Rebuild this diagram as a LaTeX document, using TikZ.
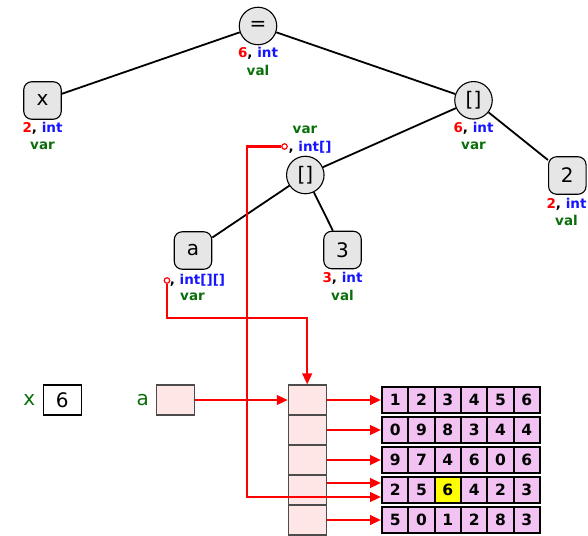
\documentclass[tikz,border=0pt]{standalone}
\usepackage{fontspec}
\setmainfont{DejaVu Sans}
\usetikzlibrary{arrows.meta,calc}
\definecolor{lblred}{RGB}{255,0,0}
\definecolor{lblblue}{RGB}{20,20,255}
\definecolor{lblgreen}{RGB}{10,110,10}
\definecolor{nodegray}{RGB}{230,230,230}
\definecolor{cellpink}{RGB}{255,230,230}
\definecolor{arrviolet}{RGB}{242,194,242}
\definecolor{hlyellow}{RGB}{255,255,0}
\tikzset{
  circ/.style={circle, draw, fill=nodegray, line width=1.1pt, minimum size=37.5pt, inner sep=0pt, font=\fontsize{20}{20}\selectfont},
  rbox/.style={rectangle, rounded corners=8pt, draw, fill=nodegray, line width=1.1pt, minimum size=37.5pt, inner sep=0pt, font=\fontsize{20}{20}\selectfont},
  edge/.style={line width=1.8pt},
  lab/.style={inner sep=0pt, font=\fontsize{13.5}{13.5}\bfseries\selectfont},
  glab/.style={lab, text=lblgreen},
  pin/.style={circle, draw=red, fill=white, line width=1.2pt, minimum size=5.5pt, inner sep=0pt},
  redline/.style={red, line width=2.4pt},
  redarrow/.style={redline, -{Triangle[length=11pt,width=9.5pt]}},
  big/.style={font=\fontsize{20}{20}\selectfont},
  colcell/.style={draw=black!70, fill=cellpink, line width=1.1pt, minimum width=37.7pt, minimum height=30pt, inner sep=0pt},
  arrcell/.style={draw, fill=arrviolet, line width=2pt, minimum width=26.3pt, minimum height=26.6pt, inner sep=0pt, font=\fontsize{15.5}{15.5}\bfseries\selectfont},
}
\newcommand{\tyl}[2]{\textcolor{lblred}{#1}, \textcolor{lblblue}{#2}}
\begin{document}
\begin{tikzpicture}[x=1pt,y=-1pt]
\useasboundingbox (0,0) rectangle (588,535);
% tree nodes
\node[circ] (eq) at (258,26) {=};
\node[rbox] (x) at (42.5,100.5) {x};
\node[circ] (ar1) at (473.5,100.3) {{[}{]}};
\node[rbox] (two) at (567.3,175.5) {2};
\node[circ] (ar2) at (305.3,175) {{[}{]}};
\node[rbox] (a) at (193,250.5) {a};
\node[rbox] (three) at (342.5,250) {3};
% edges
\draw[edge] (eq) -- (x);
\draw[edge] (eq) -- (ar1);
\draw[edge] (ar1) -- (ar2);
\draw[edge] (ar1) -- (two);
\draw[edge] (ar2) -- (a);
\draw[edge] (ar2) -- (three);
% labels
\node[lab] (eqL1) at (258,53.3) {\tyl{6}{int}};
\node[glab] (eqL2) at (258,70) {val};
\node[lab] (xL1) at (42.5,128.3) {\tyl{2}{int}};
\node[glab] (xL2) at (42.5,145.7) {var};
\node[lab] (ar1L1) at (473.5,128.3) {\tyl{6}{int}};
\node[glab] (ar1L2) at (473.5,145.7) {var};
\node[lab] (twoL1) at (566.5,204) {\tyl{2}{int}};
\node[glab] (twoL2) at (566.5,220) {val};
\node[lab] (threeL1) at (342.5,278.3) {\tyl{3}{int}};
\node[glab] (threeL2) at (342.5,295) {val};
\node[glab] (ar2L1) at (305,130) {var};
\node[lab] (ar2L2) at (310,147) {, \textcolor{lblblue}{int[]}};
\node[lab] (aL1) at (197.5,280.5) {, \textcolor{lblblue}{int[][]}};
\node[glab] (aL2) at (192.5,296.5) {var};
% memory
\node[big, text=lblgreen, inner sep=0pt] (xlab) at (29.3,400) {x};
\node[draw, line width=1.1pt, minimum width=37.7pt, minimum height=30pt, inner sep=0pt, big] (xbox) at (62.2,400) {6};
\node[big, text=lblgreen, inner sep=0pt] (alab) at (142.7,400) {a};
\node[colcell] (abox) at (175.5,400) {};
\foreach \r in {1,...,5} {
  \node[colcell] (col-\r) at (307.2,{400+30*(\r-1)}) {};
}
\foreach \row [count=\r] in {{1,2,3,4,5,6},{0,9,8,3,4,4},{9,7,4,6,0,6},{2,5,6,4,2,3},{5,0,1,2,8,3}} {
  \foreach \v [count=\c] in \row {
    \node[arrcell] (cell-\r-\c) at ({382+26.33*(\c-0.5)},{400+30*(\r-1)}) {\v};
  }
}
\node[arrcell, fill=hlyellow] (cell-4-3y) at (cell-4-3) {6};
% red pointers
\node[pin] (pb) at (284.5,146.5) {};
\node[pin] (pa) at (167,280.5) {};
\coordinate (aturn) at (167,318);
\coordinate (bturn) at (247,146.5);
\foreach \r in {1,2,3,5} {
  \draw[redarrow] (col-\r.east) -- (cell-\r-1.west);
}
\draw[redarrow] ([yshift=7pt]col-4.east) -- ([yshift=7pt]cell-4-1.west);
\draw[redarrow] (abox.east) -- (col-1.west);
\draw[redarrow] (pa) -- (aturn) -| (col-1.north);
\draw[redarrow] (pb) -- (bturn) |- ([yshift=-7pt]cell-4-1.west);
\end{tikzpicture}
\end{document}
